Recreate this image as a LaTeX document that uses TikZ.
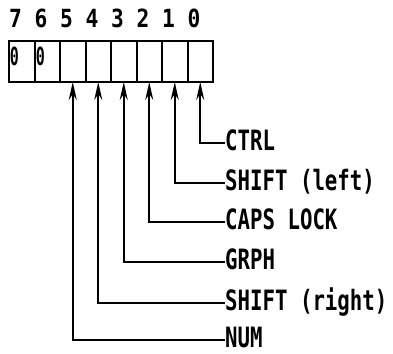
\documentclass[tikz,border=0pt]{standalone}
\usepackage{fontspec}
\setmonofont{DejaVu Sans Mono}
\usetikzlibrary{arrows.meta}
\newcommand{\narrow}[1]{\scalebox{0.74}[1]{#1}}
\tikzset{
  bitcell/.style={draw,line width=2pt,minimum width=25.5pt,minimum height=41pt,inner sep=0pt,outer sep=0pt},
  bitnum/.style={inner sep=0pt,font=\fontsize{25}{25}\ttfamily\bfseries},
  keylabel/.style={anchor=west,inner sep=0pt,text height=20pt,text depth=5pt,font=\fontsize{28}{28}\ttfamily\bfseries},
  keyarrow/.style={line width=1.7pt,-{Stealth[length=18pt,width=8pt]}}
}
\begin{document}
\begin{tikzpicture}[x=1pt,y=-1pt]
\useasboundingbox (0,0) rectangle (393,353);
\foreach \b [count=\i from 0] in {7,6,5,4,3,2,1,0} {
  \node[bitcell] (b\b) at (21.75+25.5*\i,61.5) {};
  \node[bitnum] (d\b) at (15.5+25.5*\i,18.5) {\scalebox{0.85}[1]{\b}};
}
\node[bitnum] (z7) at (14.5,56.5) {\scalebox{0.6}[1]{0}};
\node[bitnum] (z6) at (40.5,56.5) {\scalebox{0.6}[1]{0}};
% key labels, wired up to their bits
\foreach \b/\t/\y in {0/CTRL/143,1/SHIFT (left)/183,2/CAPS LOCK/222,3/GRPH/262,4/SHIFT (right)/303,5/NUM/340} {
  \node[keylabel] (k\b) at (225,\y) {\narrow{\t}};
  \draw[keyarrow] (k\b.west) -| (b\b.south);
}
\end{tikzpicture}
\end{document}
